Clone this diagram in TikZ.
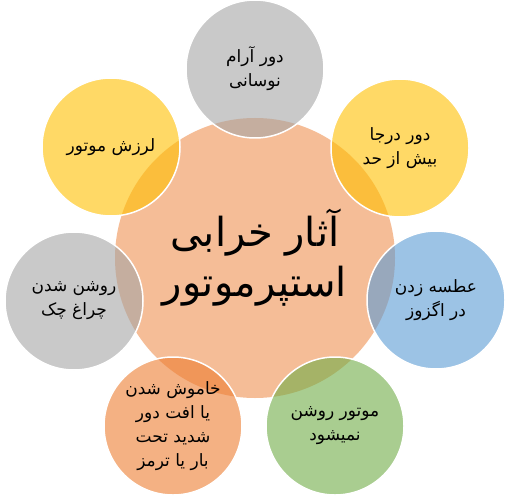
\documentclass[tikz,border=0pt]{standalone}
\usepackage{fontspec}
\newfontfamily\arabicfont[Script=Arabic]{DejaVu Sans}
\TeXXeTstate=1
\newcommand\myrtl[1]{\beginR #1\endR}
\definecolor{corange}{HTML}{ED7D31}
\definecolor{cgray}{HTML}{A5A5A5}
\definecolor{cgold}{HTML}{FFC000}
\definecolor{cblue}{HTML}{5B9BD5}
\definecolor{cgreen}{HTML}{70AD47}
\begin{document}
\begin{tikzpicture}[x=1pt,y=-1pt]
\tikzset{
  sat/.style={circle, minimum size=138pt, inner sep=0pt, fill opacity=0.6,
    text opacity=1, draw=white, draw opacity=1, line width=1.5pt,
    font=\arabicfont\fontsize{17}{24}\selectfont, align=center},
  hub/.style={circle, minimum size=280pt, inner sep=0pt, fill=corange,
    fill opacity=0.5, text opacity=1,
    font=\arabicfont\fontsize{40}{50}\selectfont, align=center}
}
\useasboundingbox (0,0) rectangle (521,497);
\fill[white] (0,0) rectangle (521,497);
\node[hub] (c) at (255,258) {\myrtl{آثار خرابی}\\\myrtl{استپرموتور}};
\node[sat, fill=cgray] (s1) at (255,69) {\myrtl{دور آرام}\\\myrtl{نوسانی}};
\node[sat, fill=cgold] (s2) at (400,148) {\myrtl{دور درجا}\\\myrtl{بیش از حد}};
\node[sat, fill=cblue] (s3) at (436,300) {\myrtl{عطسه زدن}\\\myrtl{در اگزوز}};
\node[sat, fill=cgreen] (s4) at (335,426) {\myrtl{موتور روشن}\\\myrtl{نمیشود}};
\node[sat, fill=corange] (s5) at (173,426) {\myrtl{خاموش شدن}\\\myrtl{یا افت دور}\\\myrtl{شدید تحت}\\\myrtl{بار یا ترمز}};
\node[sat, fill=cgray] (s6) at (74,301) {\myrtl{روشن شدن}\\\myrtl{چراغ چک}};
\node[sat, fill=cgold] (s7) at (111,147) {\myrtl{لرزش موتور}};
\end{tikzpicture}
\end{document}
